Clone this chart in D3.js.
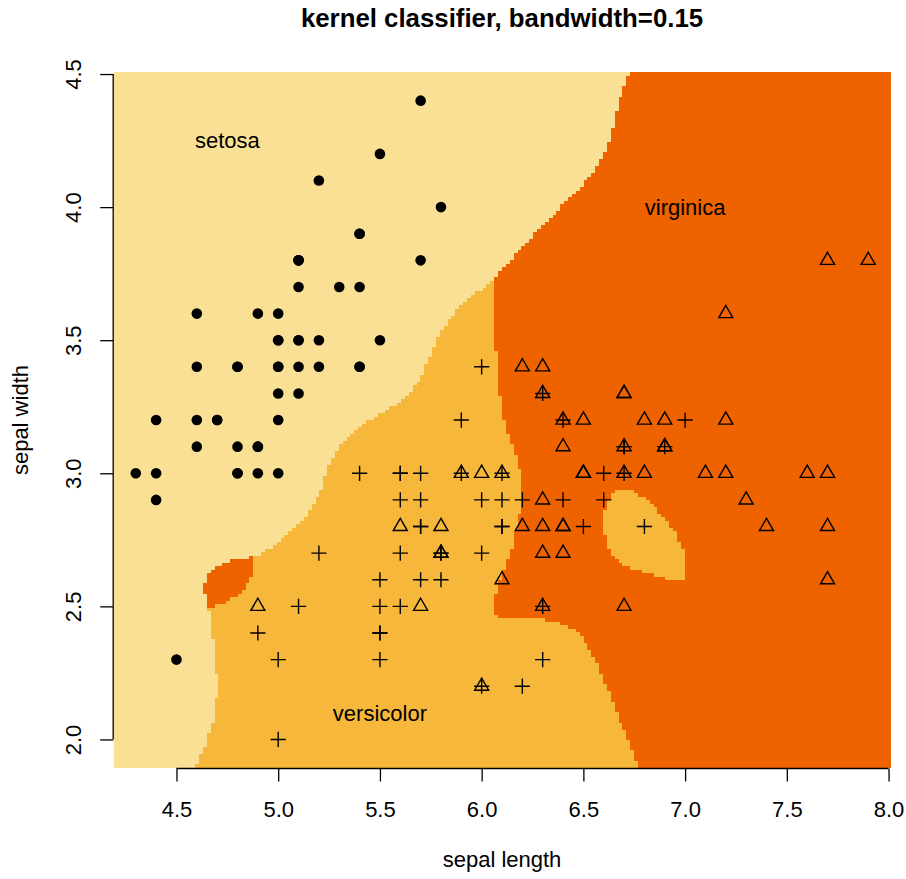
<!DOCTYPE html>
<html>
<head>
<meta charset="utf-8">
<script src="https://cdn.jsdelivr.net/npm/d3@7"></script>
<style>
  html, body { margin: 0; padding: 0; background: #ffffff; }
  svg { display: block; font-family: "Liberation Sans", Arial, Helvetica, sans-serif; }
</style>
</head>
<body>
<svg id="chart" width="906" height="879"></svg>
<script>
// ---- data: iris sepal measurements by species ----
const species = ["setosa", "versicolor", "virginica"];
const setosaLength = [5.1,4.9,4.7,4.6,5.0,5.4,4.6,5.0,4.4,4.9,5.4,4.8,4.8,4.3,5.8,5.7,5.4,5.1,5.7,5.1,5.4,5.1,4.6,5.1,4.8,5.0,5.0,5.2,5.2,4.7,4.8,5.4,5.2,5.5,4.9,5.0,5.5,4.9,4.4,5.1,5.0,4.5,4.4,5.0,5.1,4.8,5.1,4.6,5.3,5.0];
const setosaWidth  = [3.5,3.0,3.2,3.1,3.6,3.9,3.4,3.4,2.9,3.1,3.7,3.4,3.0,3.0,4.0,4.4,3.9,3.5,3.8,3.8,3.4,3.7,3.6,3.3,3.4,3.0,3.4,3.5,3.4,3.2,3.1,3.4,4.1,4.2,3.1,3.2,3.5,3.6,3.0,3.4,3.5,2.3,3.2,3.5,3.8,3.0,3.8,3.2,3.7,3.3];
const versicolorLength = [7.0,6.4,6.9,5.5,6.5,5.7,6.3,4.9,6.6,5.2,5.0,5.9,6.0,6.1,5.6,6.7,5.6,5.8,6.2,5.6,5.9,6.1,6.3,6.1,6.4,6.6,6.8,6.7,6.0,5.7,5.5,5.5,5.8,6.0,5.4,6.0,6.7,6.3,5.6,5.5,5.5,6.1,5.8,5.0,5.6,5.7,5.7,6.2,5.1,5.7];
const versicolorWidth  = [3.2,3.2,3.1,2.3,2.8,2.8,3.3,2.4,2.9,2.7,2.0,3.0,2.2,2.9,2.9,3.1,3.0,2.7,2.2,2.5,3.2,2.8,2.5,2.8,2.9,3.0,2.8,3.0,2.9,2.6,2.4,2.4,2.7,2.7,3.0,3.4,3.1,2.3,3.0,2.5,2.6,3.0,2.6,2.3,2.7,3.0,2.9,2.9,2.5,2.8];
const virginicaLength = [6.3,5.8,7.1,6.3,6.5,7.6,4.9,7.3,6.7,7.2,6.5,6.4,6.8,5.7,5.8,6.4,6.5,7.7,7.7,6.0,6.9,5.6,7.7,6.3,6.7,7.2,6.2,6.1,6.4,7.2,7.4,7.9,6.4,6.3,6.1,7.7,6.3,6.4,6.0,6.9,6.7,6.9,5.8,6.8,6.7,6.7,6.3,6.5,6.2,5.9];
const virginicaWidth  = [3.3,2.7,3.0,2.9,3.0,3.0,2.5,2.9,2.5,3.6,3.2,2.7,3.0,2.5,2.8,3.2,3.0,3.8,2.6,2.2,3.2,2.8,2.8,2.7,3.3,3.2,2.8,3.0,2.8,3.0,2.8,3.8,2.8,2.8,2.6,3.0,3.4,3.1,3.0,3.1,3.1,3.1,2.7,3.2,3.3,3.0,2.5,3.0,3.4,3.0];

const bandwidth = 0.15;
const gridSize = 200;
const xTicks = [4.5, 5.0, 5.5, 6.0, 6.5, 7.0, 7.5, 8.0];
const yTicks = [2.0, 2.5, 3.0, 3.5, 4.0, 4.5];
const classLabels = [
  { name: "setosa", x: 4.75, y: 4.25 },
  { name: "virginica", x: 7.0, y: 4.0 },
  { name: "versicolor", x: 5.5, y: 2.1 }
];
const regionColors = ["#F9E095", "#F6B73B", "#EE6200"];

// ---- build point table ----
const lengths = [setosaLength, versicolorLength, virginicaLength];
const widths = [setosaWidth, versicolorWidth, virginicaWidth];
const points = [];
species.forEach((s, k) => {
  lengths[k].forEach((v, i) => points.push({ x: v, y: widths[k][i], cls: k }));
});

// ---- grid: data range +/- 0.1 ----
const allX = points.map(p => p.x), allY = points.map(p => p.y);
const gx0 = d3.min(allX) - 0.1, gx1 = d3.max(allX) + 0.1;
const gy0 = d3.min(allY) - 0.1, gy1 = d3.max(allY) + 0.1;
const gxs = d3.range(gridSize).map(i => gx0 + (gx1 - gx0) * i / (gridSize - 1));
const gys = d3.range(gridSize).map(j => gy0 + (gy1 - gy0) * j / (gridSize - 1));
const dx = (gx1 - gx0) / (gridSize - 1), dy = (gy1 - gy0) / (gridSize - 1);

function classify(x, y) {
  const s = [0, 0, 0];
  const h2 = 2 * bandwidth * bandwidth;
  for (const p of points) {
    const d2 = (x - p.x) * (x - p.x) + (y - p.y) * (y - p.y);
    s[p.cls] += Math.exp(-d2 / h2);
  }
  return d3.maxIndex(s);
}

// ---- scales ----
const margin = { left: 113.5, right: 906 - 890.5, top: 72.3, bottom: 879 - 767.8 };
const W = 906, H = 879;
const x = d3.scaleLinear().domain([gx0 - dx / 2, gx1 + dx / 2]).range([margin.left, W - margin.right]);
const y = d3.scaleLinear().domain([gy0 - dy / 2, gy1 + dy / 2]).range([H - margin.bottom, margin.top]);

const svg = d3.select("#chart");

// ---- regions: run-length per grid row ----
const cells = [];
gys.forEach((gy, j) => {
  let start = 0;
  let cur = classify(gxs[0], gy);
  for (let i = 1; i <= gridSize; i++) {
    const c = i < gridSize ? classify(gxs[i], gy) : -1;
    if (c !== cur) {
      cells.push({ x0: gxs[start] - dx / 2, x1: gxs[i - 1] + dx / 2, y0: gy - dy / 2, y1: gy + dy / 2, cls: cur });
      start = i; cur = c;
    }
  }
});

svg.append("g")
  .attr("shape-rendering", "crispEdges")
  .selectAll("rect")
  .data(cells)
  .join("rect")
  .attr("x", d => x(d.x0))
  .attr("width", d => x(d.x1) - x(d.x0))
  .attr("y", d => y(d.y1))
  .attr("height", d => y(d.y0) - y(d.y1))
  .attr("fill", d => regionColors[d.cls]);

// ---- class labels ----
svg.append("g").selectAll("text")
  .data(classLabels)
  .join("text")
  .attr("x", d => x(d.x))
  .attr("y", d => y(d.y))
  .attr("dy", "0.36em")
  .attr("text-anchor", "middle")
  .attr("font-size", 22)
  .attr("fill", "#000")
  .text(d => d.name);

// ---- points ----
const pg = svg.append("g").attr("stroke", "#000").attr("stroke-width", 1.4).attr("fill", "none");
points.forEach(p => {
  const px = x(p.x), py = y(p.y);
  if (p.cls === 0) {
    pg.append("circle").attr("cx", px).attr("cy", py).attr("r", 5.3).attr("fill", "#000").attr("stroke", "none");
  } else if (p.cls === 1) {
    const a = 7.6;
    pg.append("path").attr("d", `M${px - a},${py}H${px + a}M${px},${py - a}V${py + a}`);
  } else {
    const r = 8.1, xc = r * Math.sqrt(3) / 2;
    pg.append("path").attr("d", `M${px},${py - r}L${px + xc},${py + r / 2}L${px - xc},${py + r / 2}Z`);
  }
});

// ---- axes ----
const axisY0 = H - margin.bottom + 0.7;
const xAxis = svg.append("g").attr("transform", `translate(0,${axisY0})`)
  .call(d3.axisBottom(x).tickValues(xTicks).tickSize(13).tickPadding(20).tickFormat(d3.format(".1f")));
xAxis.select(".domain").remove();
xAxis.append("line").attr("x1", x(xTicks[0])).attr("x2", x(xTicks[xTicks.length - 1]))
  .attr("stroke", "#000").attr("stroke-width", 1.3);
xAxis.selectAll(".tick line").attr("stroke", "#000").attr("stroke-width", 1.3);
xAxis.selectAll(".tick text").attr("font-size", 22).attr("fill", "#000")
  .attr("font-family", "Liberation Sans, Arial, sans-serif")
  .attr("dy", null).attr("y", 48.5);

const axisX0 = margin.left - 0.3;
const yAxis = svg.append("g").attr("transform", `translate(${axisX0},0)`)
  .call(d3.axisLeft(y).tickValues(yTicks).tickSize(13).tickFormat(d3.format(".1f")));
yAxis.select(".domain").remove();
yAxis.append("line").attr("y1", y(yTicks[0])).attr("y2", y(yTicks[yTicks.length - 1]))
  .attr("stroke", "#000").attr("stroke-width", 1.3);
yAxis.selectAll(".tick line").attr("stroke", "#000").attr("stroke-width", 1.3);
yAxis.selectAll(".tick text").attr("font-size", 22).attr("fill", "#000")
  .attr("font-family", "Liberation Sans, Arial, sans-serif")
  .attr("x", null).attr("dy", null)
  .attr("text-anchor", "middle")
  .attr("transform", "translate(-32,0) rotate(-90)");

// ---- titles ----
const cx = (margin.left + W - margin.right) / 2;
svg.append("text").attr("x", cx).attr("y", 27).attr("text-anchor", "middle")
  .attr("font-size", 25.8).attr("font-weight", "bold").text("kernel classifier, bandwidth=" + bandwidth);
svg.append("text").attr("x", cx).attr("y", 867).attr("text-anchor", "middle")
  .attr("font-size", 22).text("sepal length");
svg.append("text").attr("transform", `translate(28,${(margin.top + H - margin.bottom) / 2}) rotate(-90)`)
  .attr("text-anchor", "middle").attr("font-size", 22).text("sepal width");
</script>
</body>
</html>
